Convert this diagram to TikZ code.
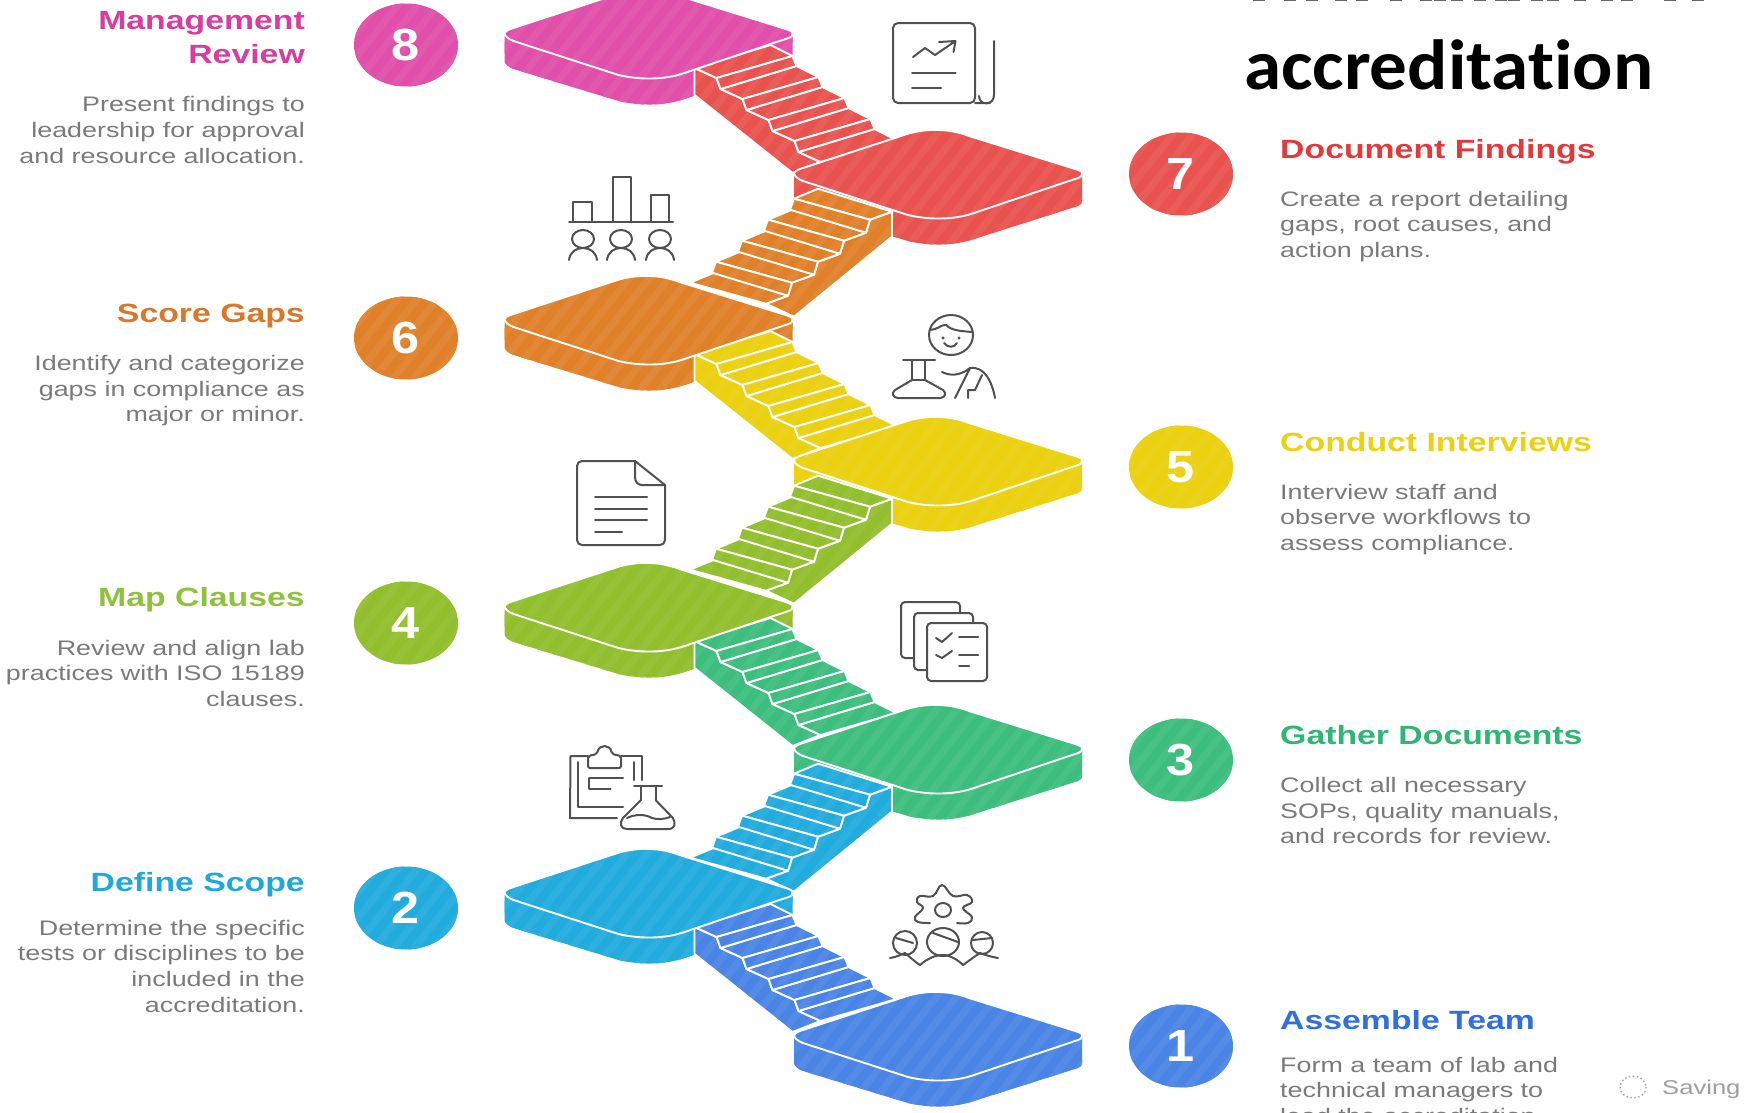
\documentclass[tikz,border=0pt]{standalone}
\usepackage{fontspec}
\usetikzlibrary{calc,shapes.geometric}
\setmainfont{Liberation Sans}
\newfontfamily\wfont[FakeStretch=1.28]{Liberation Sans}
\newfontfamily\nfont[FakeStretch=1.12]{Liberation Sans}
\newfontfamily\tfont[FakeStretch=1.058,Ligatures=NoCommon]{Carlito}
\definecolor{c1}{HTML}{4A85E5}
\definecolor{c2}{HTML}{22ACDE}
\definecolor{c3}{HTML}{3DBE7E}
\definecolor{c4}{HTML}{92BF2E}
\definecolor{c5}{HTML}{EBD10F}
\definecolor{c6}{HTML}{E0812A}
\definecolor{c7}{HTML}{E8534F}
\definecolor{c8}{HTML}{E04FA9}
\definecolor{h1}{HTML}{2F6FDE}
\definecolor{h2}{HTML}{1FA8DE}
\definecolor{h3}{HTML}{2FB574}
\definecolor{h4}{HTML}{8FC23C}
\definecolor{h5}{HTML}{EBD10F}
\definecolor{h6}{HTML}{D9772A}
\definecolor{h7}{HTML}{E3383C}
\definecolor{h8}{HTML}{D93C9E}
\definecolor{ink}{HTML}{505050}
\definecolor{desc}{HTML}{7A7A7A}
\tikzset{
  stripe/.style={fill=#1, path picture={
    \foreach \k in {-560,-540,...,420}
      \draw[line width=7pt,#1!95!white] (\k,240) -- ++(320,-400);}},
  cstripe/.style={fill=#1, path picture={
    \foreach \k in {-120,-100,...,120}
      \draw[line width=7pt,#1!95!white] ($(path picture bounding box.center)+(\k-60,75)$) -- ++(120,-150);}},
  wline/.style={draw=white,line width=1.9pt,line join=round},
  icon/.style={draw=ink,line width=2pt,line cap=round,line join=round,fill=none},
  numdisc/.style={ellipse,minimum width=104pt,minimum height=83pt,inner sep=0pt,cstripe=#1,
     text=white,font=\nfont\fontsize{45}{45}\selectfont\bfseries},
  head/.style={font=\wfont\fontsize{26.4}{30}\selectfont\bfseries,text=#1,inner sep=0pt},
  body/.style={font=\wfont\fontsize{21}{25}\selectfont,text=desc,inner sep=0pt}
}
\newcommand\platpath{(0,0) .. controls (2,-3) and (6,-4) .. (12,-6) -- (110,-38) .. controls (130,-45) and (155,-45) .. (175,-37) -- (278,-5) .. controls (285,-3) and (289,-1) .. (288,0) .. controls (289,2) and (287,4) .. (284,5) -- (180,40) .. controls (160,47) and (135,47) .. (114,42) -- (9,8) .. controls (4,6) and (0,3) .. (0,0) -- cycle}
\newcommand\platside[3]{\begin{scope}[shift={(#2,#3)}]
  \path[stripe=#1] (0,0) -- (0,28) .. controls (0,31) and (4,34) .. (9,36) -- (114,68) .. controls (135,73) and (160,73) .. (180,66) -- (284,33) .. controls (287,32) and (288,30) .. (288,28) -- (288,0) -- cycle;
\end{scope}}
\newcommand\plattop[3]{\begin{scope}[shift={(#2,#3)}]
  \path[stripe=#1,wline] \platpath;
\end{scope}}
\newcommand\stairdown[3]{\begin{scope}[shift={(#2+190,#3+35)}]
  \path[stripe=#1,wline] (0,0)--(22,10)--(26,21)--(48,31)--(52,42)--(74,52)--(78,63)--(100,73)--(104,84)--(126,94)--(98,105)--(0,27)--cycle;
  \foreach \i in {0,...,4}{
    \path[stripe=#1,wline] ({\i*26},{\i*21}) -- ++(76,-23) -- ++(22,11) -- ++(-76,22) -- cycle;}
  \foreach \i in {0,...,3}{
    \path[stripe=#1,wline] ({22+\i*26},{10+\i*21}) -- ++(76,-22) -- ++(4,10) -- ++(-76,23) -- cycle;}
\end{scope}}
\newcommand\stairup[3]{\begin{scope}[shift={(#2+98,#3+38.7)}]
  \path[stripe=#1,wline] (0,0)--(-22,8)--(-26,21)--(-48,29)--(-52,42)--(-74,50)--(-78,63)--(-100,71)--(-104,84)--(-126,92)--(-98,105)--(0,25)--cycle;
  \foreach \i in {0,...,4}{
    \path[stripe=#1,wline] ({-\i*26},{\i*21}) -- ++(-74,-23) -- ++(-24,10) -- ++(76,21) -- cycle;}
  \foreach \i in {0,...,3}{
    \path[stripe=#1,wline] ({-22-\i*26},{8+\i*21}) -- ++(-76,-21) -- ++(-4,11) -- ++(76,23) -- cycle;}
\end{scope}}
\newcommand\bodyblock[5]{\foreach \t [count=\i from 0] in {#5}{
  \node[body,anchor=base #2] (#1-\i) at (#3,{#4+\i*25.7}) {\t};}}
\begin{document}
\begin{tikzpicture}[x=1pt,y=-1pt]
\useasboundingbox (0,0) rectangle (1748,1112);
\clip (0,0) rectangle (1748,1112);
% platforms and stairs, top to bottom
\platside{c8}{504.5}{33}
\stairdown{c7}{504.5}{33}
\plattop{c8}{504.5}{33}
\platside{c7}{794}{173}
\stairup{c6}{794}{173}
\plattop{c7}{794}{173}
\platside{c6}{504.5}{319}
\stairdown{c5}{504.5}{319}
\plattop{c6}{504.5}{319}
\platside{c5}{794}{460}
\stairup{c4}{794}{460}
\plattop{c5}{794}{460}
\platside{c4}{504.5}{606}
\stairdown{c3}{504.5}{606}
\plattop{c4}{504.5}{606}
\platside{c3}{794}{748}
\stairup{c2}{794}{748}
\plattop{c3}{794}{748}
\platside{c2}{504.5}{892}
\stairdown{c1}{504.5}{892}
\plattop{c2}{504.5}{892}
\platside{c1}{794}{1035}
\plattop{c1}{794}{1035}
% number discs
\node[numdisc=c8] (n8) at (406,45) {8};
\node[numdisc=c6] (n6) at (406,338) {6};
\node[numdisc=c4] (n4) at (406,623) {4};
\node[numdisc=c2] (n2) at (406,908) {2};
\node[numdisc=c7] (n7) at (1181,174) {7};
\node[numdisc=c5] (n5) at (1181,467) {5};
\node[numdisc=c3] (n3) at (1181,760) {3};
\node[numdisc=c1] (n1) at (1181,1046) {1};
% title
\node[anchor=base west,inner sep=0pt,font=\tfont\fontsize{71}{71}\selectfont\bfseries,text=black] (title) at (1244,89) {accreditation};
\foreach \x in {1259,1290,1312,1341,1362,1396,1426,1440,1457,1480,1501,1514,1537,1553,1580,1607,1627,1670,1698}
  \fill[black!60] (\x-6,0) rectangle (\x+6,1.2);
% right texts
\node[head=h7,anchor=base west] (t7) at (1280,158) {Document Findings};
\bodyblock{d7}{west}{1280}{206}{Create a report detailing,{gaps, root causes, and},action plans.}
\node[head=h5,anchor=base west] (t5) at (1280,451) {Conduct Interviews};
\bodyblock{d5}{west}{1280}{499}{Interview staff and,observe workflows to,assess compliance.}
\node[head=h3,anchor=base west] (t3) at (1280,744.5) {Gather Documents};
\bodyblock{d3}{west}{1280}{792.5}{Collect all necessary,{SOPs, quality manuals,},and records for review.}
\node[head=h1,anchor=base west] (t1) at (1280,1029.5) {Assemble Team};
\bodyblock{d1}{west}{1280}{1072}{Form a team of lab and,technical managers to,lead the accreditation.}
% left texts
\node[head=h8,anchor=base east] (t8a) at (305,29) {Management};
\node[head=h8,anchor=base east] (t8b) at (305,63) {Review};
\bodyblock{d8}{east}{305}{111.7}{Present findings to,leadership for approval,and resource allocation.}
\node[head=h6,anchor=base east] (t6) at (305,322) {Score Gaps};
\bodyblock{d6}{east}{305}{370.5}{Identify and categorize,gaps in compliance as,major or minor.}
\node[head=h4,anchor=base east] (t4) at (305,606) {Map Clauses};
\bodyblock{d4}{east}{305}{655}{Review and align lab,practices with ISO 15189,clauses.}
\node[head=h2,anchor=base east] (t2) at (305,891) {Define Scope};
\bodyblock{d2}{east}{305}{935}{Determine the specific,tests or disciplines to be,included in the,accreditation.}
% saving
\draw[black!35,line width=1.5pt,dash pattern=on 1.5pt off 2.5pt] (1633,1087) ellipse (13 and 11);
\node[anchor=base west,inner sep=0pt,font=\wfont\fontsize{20}{24}\selectfont,text=black!38] (saving) at (1662,1094) {Saving};
% icon: report
\draw[icon,rounded corners=5pt] (893,23) rectangle (975,103);
\draw[icon] (994,41) -- (994,95) .. controls (994,106) and (979,106) .. (979,96) (975,103) -- (990,103);
\draw[icon] (913,57) -- (925,48) -- (935,55) -- (955.5,41) (939,42) -- (955.5,41) -- (953.5,52);
\draw[icon] (912,73) -- (955.5,73) (912,88) -- (941,88);
% icon: bars and people
\draw[icon] (573,222) -- (573,202) -- (592,202) -- (592,222);
\draw[icon] (613,222) -- (613,177) -- (631,177) -- (631,222);
\draw[icon] (651,222) -- (651,195) -- (669,195) -- (669,222);
\draw[icon] (569,222) -- (673,222);
\foreach \x in {583,621,660}{
  \draw[icon] (\x,239) ellipse (11 and 9);
  \draw[icon] (\x-14,260) .. controls (\x-13,252) and (\x-7,248) .. (\x,248) .. controls (\x+7,248) and (\x+13,252) .. (\x+14,260);}
% icon: scientist
\draw[icon] (951,335) ellipse (22 and 20);
\draw[icon] (930,330) .. controls (937,330) and (942,324) .. (946,325) .. controls (952,331) and (962,331) .. (972,332);
\fill[ink] (943,338) circle (1.6) (959,338) circle (1.6);
\draw[icon] (944,343) .. controls (948,348) and (954,348) .. (957,343);
\draw[icon] (903,360) -- (935,360) (912,360) -- (912,380) -- (925,380) (925,360) -- (925,380);
\draw[icon] (912,380) -- (895,390) .. controls (891,393) and (893,398) .. (898,398) -- (940,398) .. controls (945,398) and (947,393) .. (943,390) -- (925,380);
\draw[icon] (942,372) .. controls (950,376) and (960,376) .. (970,368) .. controls (985,366) and (992,382) .. (995,398);
\draw[icon] (970,368) -- (955,398) (968,398) -- (968,390) -- (975,390) -- (982,375);
% icon: document
\draw[icon,rounded corners=5pt] (635,461) -- (577,461) -- (577,545) -- (665,545) -- (665,485);
\draw[icon] (635,461) -- (665,485);
\draw[icon] (635,461) -- (635,477) .. controls (635,482) and (638,485) .. (642,485) -- (665,485);
\draw[icon] (595,497) -- (647,497) (595,509) -- (647,509) (595,520) -- (647,520) (595,532) -- (622,532);
% icon: checklists
\draw[icon,rounded corners=4pt] (960,612) -- (960,602) -- (901,602) -- (901,658) -- (913,658);
\draw[icon,rounded corners=4pt] (973,622) -- (973,613) -- (914,613) -- (914,670) -- (927,670);
\draw[icon,rounded corners=4pt] (927,623) rectangle (987,681);
\draw[icon] (936,638) -- (942,642) -- (952,633) (936,655) -- (942,658) -- (952,651);
\draw[icon] (959,637) -- (978,637) (959,655) -- (978,655) (959,666) -- (969,666);
% icon: clipboard and flask
\draw[icon] (588,756) -- (570.5,756) -- (570,818) -- (617,818);
\draw[icon] (621,756) -- (642,756) -- (642,780);
\draw[icon] (578,762) -- (578,807) -- (623,807) (634,762) -- (634,780);
\draw[icon,rounded corners=2pt] (588,768) -- (588,756) -- (597,754) .. controls (599,744) and (610,744) .. (612,754) -- (621,756) -- (621,768) -- cycle;
\draw[icon] (589,778) -- (623,778) (589,778) -- (589,789) -- (610.6,789);
\draw[icon] (634,786) -- (662,786) (641,786) -- (641,800) (655.5,786) -- (655.5,800);
\draw[icon] (641,800) -- (623,818) .. controls (619,824) and (621,829) .. (627,829) -- (668,829) .. controls (675,829) and (676,824) .. (673,818) -- (655.5,800);
\draw[icon] (627,818) .. controls (635,814) and (645,814) .. (652,818) .. controls (658,820) and (665,819) .. (670,817);
% icon: gear and team
\draw[icon] plot[smooth,tension=0.7] coordinates {(930,923) (918,922) (915,917) (923,908) (917,902) (920,896) (933,896) (942,885) (953,896) (967,895) (972,902) (963,908) (972,917) (968,923) (957,923)};
\draw[icon] (943,910) ellipse (8 and 7);
\draw[icon] (905,943) ellipse (12 and 12);
\draw[icon] (943,942) ellipse (16 and 14);
\draw[icon] (982,943) ellipse (11 and 11);
\draw[icon] (896,938) -- (913,943) (933,933) -- (958,942) (973,940) -- (992,938);
\draw[icon] (890,958) .. controls (897,957) and (902,954) .. (905,953) .. controls (910,957) and (915,962) .. (920,965) .. controls (928,958) and (936,955) .. (943,955) .. controls (950,955) and (958,960) .. (963,965) .. controls (970,960) and (975,956) .. (980,953) .. controls (985,955) and (992,957) .. (998,958);
\end{tikzpicture}
\end{document}
